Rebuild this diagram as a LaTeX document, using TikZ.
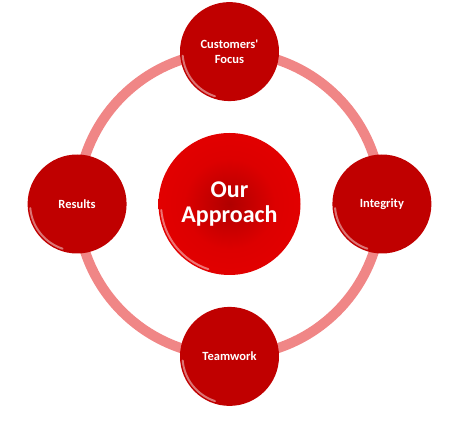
\documentclass[tikz,border=0pt]{standalone}
\usepackage{fontspec}
\setmainfont{Carlito}[Ligatures=TeXOff]
\usetikzlibrary{positioning}
\definecolor{spokered}{RGB}{192,0,0}
\definecolor{hubred}{RGB}{232,0,0}
\definecolor{hubdark}{RGB}{176,0,0}
\definecolor{ringpink}{RGB}{240,134,134}
\pgfdeclareradialshading{hubglow}{\pgfpoint{0bp}{0bp}}{%
  color(0bp)=(hubdark); color(16bp)=(hubred!80!hubdark);
  color(36bp)=(hubred); color(50bp)=(hubred)}
\tikzset{
  hub/.style={circle, shading=hubglow, minimum size=142pt, inner sep=0pt,
    align=center, text=white, font=\bfseries\fontsize{24}{25}\selectfont},
  spoke/.style={circle, fill=spokered, minimum size=99pt, inner sep=0pt,
    align=center, text=white, font=\bfseries\fontsize{12.5}{15}\selectfont},
  ring/.style={draw=ringpink, line width=10pt},
  shine/.style={white, opacity=0.45, line width=2pt, line cap=round}
}

\begin{document}
\begin{tikzpicture}[x=1pt, y=1pt, node distance=31.5pt and 31.5pt]
  \useasboundingbox (0,0) rectangle (467,429);
  \node[hub] (core) at (229.5,225) {Our\\Approach};
  \draw[ring] (core.center) circle[radius=152];
  \node[spoke, above=of core] (focus) {Customers'\\Focus};
  \node[spoke, left=of core] (results) {Results};
  \node[spoke, right=of core] (integrity) {Integrity};
  \node[spoke, below=of core] (teamwork) {Teamwork};
  % glint on the lower left rim
  \foreach \n in {focus,results,integrity,teamwork}
    \draw[shine] (\n.center) ++(185:47) arc[start angle=185, end angle=252, radius=47];
  \draw[shine] (core.center) ++(185:68.5) arc[start angle=185, end angle=252, radius=68.5];
\end{tikzpicture}
\end{document}
